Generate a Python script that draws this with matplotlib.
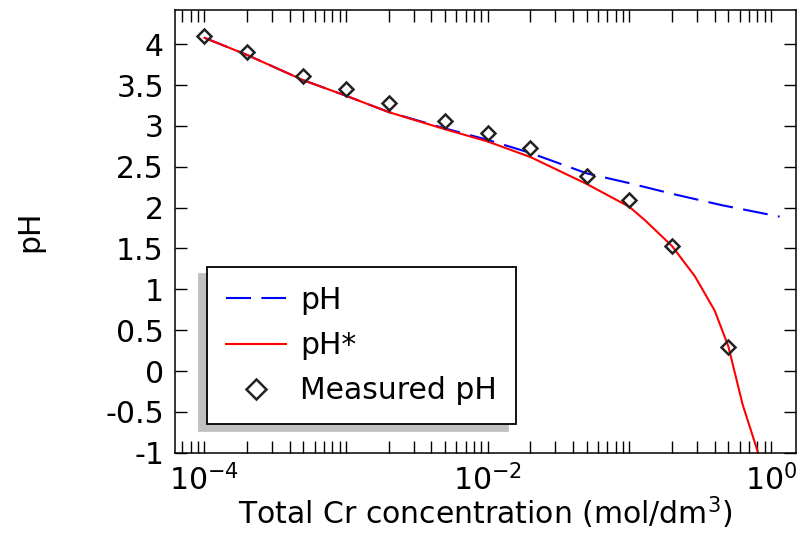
import numpy as np
import matplotlib
matplotlib.use("Agg")
import matplotlib.pyplot as plt
from matplotlib.ticker import FixedLocator, LogLocator, FuncFormatter, NullFormatter

plt.rcParams['font.family'] = ['DejaVu Sans']
plt.rcParams['axes.unicode_minus'] = False

# calculated pH (dashed blue)
c_ph = [1e-4, 2e-4, 5e-4, 1e-3, 2e-3, 5e-3, 1e-2, 2e-2, 5e-2, 0.1, 0.2, 0.45, 1.15]
ph = [4.08, 3.87, 3.56, 3.37, 3.17, 2.97, 2.83, 2.67, 2.42, 2.30, 2.17, 2.03, 1.89]

# calculated pH* (solid red)
c_phs = [1e-4, 2e-4, 5e-4, 1e-3, 2e-3, 5e-3, 1e-2, 2e-2, 5e-2, 0.1, 0.13, 0.2, 0.29, 0.4, 0.5, 0.63, 0.81, 0.9]
phs = [4.08, 3.87, 3.56, 3.37, 3.17, 2.96, 2.81, 2.62, 2.29, 2.01, 1.84, 1.53, 1.16, 0.74, 0.30, -0.41, -1.0, -1.4]

# measured
c_meas = [1e-4, 2e-4, 5e-4, 1e-3, 2e-3, 5e-3, 1e-2, 2e-2, 5e-2, 0.1, 0.2, 0.5]
ph_meas = [4.10, 3.90, 3.61, 3.45, 3.28, 3.06, 2.91, 2.73, 2.39, 2.09, 1.53, 0.30]

FS = 21.5

fig = plt.figure(figsize=(7.97, 5.33), dpi=100)
ax = fig.add_axes([0.2196, 0.1507, 0.7786, 0.8305])

ax.plot(c_ph, ph, color='#0000ff', lw=1.5, dashes=(12, 5), label='pH')
ax.plot(c_phs, phs, color='#ff0000', lw=1.5, label='pH*')
ax.plot(c_meas, ph_meas, ls='none', marker='D', ms=7.5, mfc='none',
        mec='#222222', mew=1.8, label='Measured pH')

ax.set_xscale('log')
ax.set_xlim(6.2e-5, 1.49)
ax.set_ylim(-1, 4.42)

ax.xaxis.set_major_locator(FixedLocator([1e-4, 1e-2, 1e0]))
ax.xaxis.set_minor_locator(LogLocator(base=10, subs=np.arange(1, 10), numticks=50))
ax.xaxis.set_minor_formatter(NullFormatter())
ax.set_yticks(np.arange(-1, 4.01, 0.5))
ax.yaxis.set_major_formatter(FuncFormatter(lambda v, p: '%g' % v))

ax.tick_params(which='both', direction='in', top=True, right=True,
               length=8.5, width=1, labelsize=FS, pad=8)
for s in ax.spines.values():
    s.set_linewidth(1.1)

ax.set_xlabel('Total Cr concentration (mol/dm$^3$)', fontsize=FS, labelpad=-1)
ax.set_ylabel('pH', fontsize=FS, labelpad=44)

leg = ax.legend(loc='lower left', bbox_to_anchor=(0.052, 0.065), borderaxespad=0,
                fontsize=FS, fancybox=False, edgecolor='black', framealpha=1,
                handlelength=2.0, handletextpad=0.5, labelspacing=0.55,
                borderpad=0.62, markerscale=1.3,
                shadow={'ox': -5.8, 'oy': -5, 'facecolor': '#c0c0c0',
                        'edgecolor': '#c0c0c0', 'alpha': 1})
leg.get_frame().set_linewidth(1.3)

fig.savefig('out.png', dpi=100)
